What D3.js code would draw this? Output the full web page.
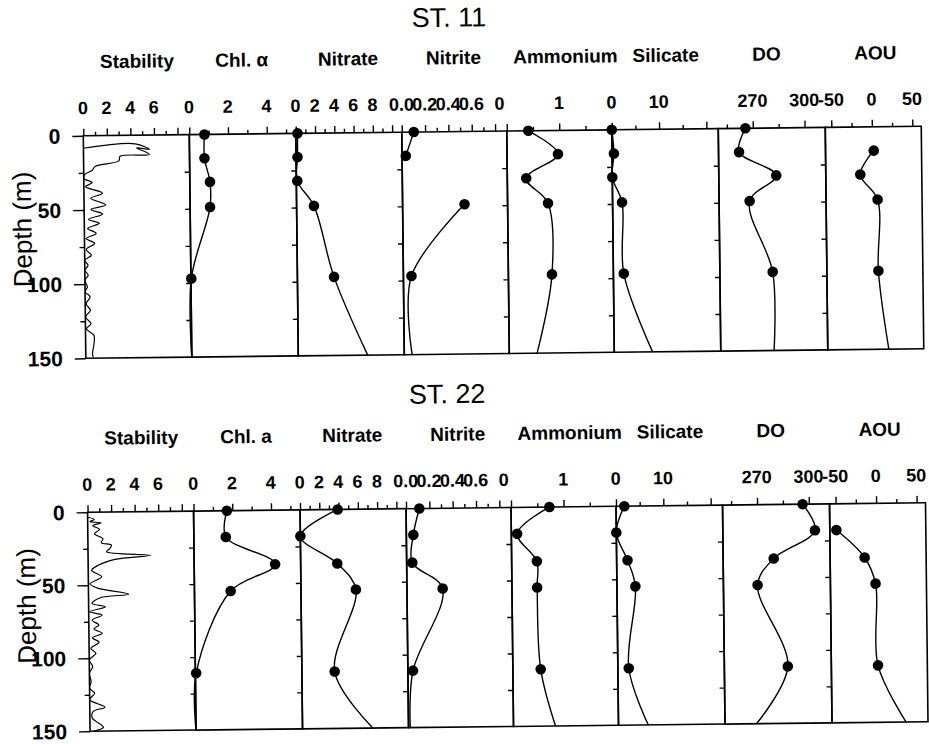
<!DOCTYPE html>
<html>
<head>
<meta charset="utf-8">
<script src="https://cdn.jsdelivr.net/npm/d3@7"></script>
<style>
  body { margin: 0; background: #fff; }
  svg { display: block; }
  text { font-family: "Liberation Sans", Arial, sans-serif; fill: #000; }
</style>
</head>
<body>
<div id="chart"></div>
<script>
// ---- data ----
const names11 = ['Stability', 'Chl. α', 'Nitrate', 'Nitrite', 'Ammonium', 'Silicate', 'DO', 'AOU'];
const names22 = ['Stability', 'Chl. a', 'Nitrate', 'Nitrite', 'Ammonium', 'Silicate', 'DO', 'AOU'];

// x range of each panel, tick values and labelled ticks
const xDomains = [[0, 9], [0, 5.5], [0, 11], [0, 0.9], [0, 2], [0, 22.5], [250, 312], [-57.5, 61]];
const majorTicks = [[0, 2, 4, 6, 8], [0, 2, 4], [0, 2, 4, 6, 8, 10], [0, 0.2, 0.4, 0.6, 0.8], [0, 1], [0, 10, 20], [270, 300], [-50, 0, 50]];
const minorTicks = [[1, 3, 5, 7], [1, 3, 5], [1, 3, 5, 7, 9], [0.1, 0.3, 0.5, 0.7], [0.5, 1.5], [5, 15], [255, 285], [-25, 25]];
const tickLabels = [[0, 2, 4, 6], [0, 2, 4], [0, 2, 4, 6, 8], [0, 0.2, 0.4, 0.6], [0, 1], [0, 10], [270, 300], [-50, 0, 50]];
const depthLabels = [0, 50, 100, 150];
const depthMinor = [25, 75, 125];

// sample depths (m); the last entry is where the curve meets the 150 m axis (no marker)
const st11Depth = [0, 16, 32, 49, 97, 150];
const st11Chl = [0.78, 0.77, 1.04, 1.03, 0.02, 0.0];
const st11Nitrate = [0.18, 0.15, 0.1, 1.8, 3.8, 7.2];
const st11Nitrite = [0.103, 0.032, null, 0.531, 0.069, 0.067];
const st11Ammonium = [0.41, 0.97, 0.36, 0.77, 0.83, 0.53];
const st11Silicate = [0, 0.4, 0, 2.0, 2.2, 8.1];
const st11DO = [265.7, 261.9, 283.3, 267.7, 280.6, 280.9];
const st11AOU = [null, 2.0, -14.9, 6.1, 6.1, 17.9];

const st22Depth = [0, 18, 37, 55, 111, 150];
const st22Chl = [1.72, 1.65, 4.18, 1.87, 0.04, 0.0];
const st22Nitrate = [3.9, 0.0, 3.8, 5.7, 3.4, 7.3];
const st22Nitrite = [0.114, 0.06, 0.048, 0.306, 0.044, 0.015];
const st22Ammonium = [0.73, 0.11, 0.48, 0.48, 0.53, 0.8];
const st22Silicate = [1.75, 0, 2.3, 3.9, 2.3, 6.3];
const st22DO = [296.4, 303.4, 279.3, 269.8, 286.8, 268.2];
const st22AOU = [null, -49.4, -14.9, -1.8, 0.1, 34];

// CTD stability profiles
const st11StabDepth = [8.4, 5.8, 9.6, 8.5, 13.0, 14.1, 17.2, 20.6, 23.5, 26, 28.7, 31.6, 34.3, 38.8, 42.2, 46.7, 49.7, 52.8, 56.4, 59.1, 62.5, 65.9, 69.3, 72.6, 76.7, 80.5, 83.9, 87.3, 90.6, 94, 97.4, 101.9, 105.3, 108.6, 113.2, 117.7, 122.2, 126.7, 130.1, 134.6, 140.2, 147, 149.3];
const st11StabValue = [0, 4.4, 5.6, 4.5, 5.6, 3.1, 3.0, 1.0, 0.7, 0.1, 0, 0.71, 0.14, 1.57, 0.57, 1.85, 0.57, 1.57, 0.37, 1.28, 0.28, 1.0, 0.14, 0.85, 0.14, 0.57, 0, 0.28, 0, 0.28, 0, 0.2, 0, 0.43, 0.08, 0.43, 0.03, 0.48, 0.08, 0.71, 0.71, 0.57, 0.63];
const st22StabDepth = [3.4, 5.0, 6.4, 7.3, 9.1, 11.8, 14.8, 18.2, 20.9, 22.7, 25, 27.2, 30, 32.5, 36.4, 39.8, 44.3, 48.9, 51.8, 56.4, 58.6, 62.5, 64.8, 68.2, 70.5, 73.9, 77.3, 80, 83, 86, 89.1, 93.2, 96.6, 101.2, 105.7, 110.2, 115.9, 120.5, 123.9, 128.4, 133.6, 136.4, 140.9, 147.3, 150];
const st22StabValue = [0, 0.57, 0.2, 1.14, 0.43, 1.0, 0.57, 1.28, 1.14, 2.0, 1.85, 1.57, 5.3, 2.28, 0.85, 0.29, 1.14, 0.14, 0.71, 3.42, 1.0, 0.29, 1.42, 0.09, 1.14, 0.29, 0.85, 0.43, 1.14, 0.29, 0.85, 0.14, 0.57, 0, 0.29, 0, 0.14, 0, 0.43, 0, 1.28, 0.29, 0.2, 1.14, 0.29];

// ---- layout ----
const width = 929, height = 744;
const edges = [86, 192, 298.5, 404.5, 509.5, 614.5, 721, 828, 924];
const labelShift = [1.5, 0, 0, 0, 7, 1.5, -4.5, 3];
// the ammonium "0" sits a little left of its tick in the original
const tickLabelNudge = (i, v) => (i === 4 && v === 0) ? -7 : 0;
const stations = [
  { title: 'ST. 11', titleX: 453, y0: 131.5, y1: 354, names: names11,
    depth: st11Depth, series: [st11Chl, st11Nitrate, st11Nitrite, st11Ammonium, st11Silicate, st11DO, st11AOU],
    stabDepth: st11StabDepth, stabValue: st11StabValue },
  { title: 'ST. 22', titleX: 447, y0: 508, y1: 727, names: names22,
    depth: st22Depth, series: [st22Chl, st22Nitrate, st22Nitrite, st22Ammonium, st22Silicate, st22DO, st22AOU],
    stabDepth: st22StabDepth, stabValue: st22StabValue }
];

const svg = d3.select('#chart').append('svg')
  .attr('width', width)
  .attr('height', height);

// the original is a slightly tilted scan
const root = svg.append('g').attr('transform', 'rotate(-0.65, 465, 372)');

const fmtTick = (i, v) => i === 3 ? d3.format('.1f')(v) : String(v);

stations.forEach((st, si) => {
  const g = root.append('g');
  const y = d3.scaleLinear().domain([0, 150]).range([st.y0, st.y1]);

  // station title
  g.append('text')
    .attr('x', st.titleX)
    .attr('y', st.y0 - 105)
    .attr('text-anchor', 'middle')
    .style('font-size', '27px')
    .text(st.title);

  // depth axis label
  g.append('text')
    .attr('transform', `translate(33, ${st.y0 + 93}) rotate(-90)`)
    .attr('text-anchor', 'middle')
    .style('font-size', '26px')
    .text('Depth (m)');

  // depth tick labels
  g.selectAll('text.dlab')
    .data(depthLabels)
    .enter()
    .append('text')
    .attr('class', 'dlab')
    .attr('x', 63)
    .attr('y', d => y(d))
    .attr('dy', '0.36em')
    .attr('text-anchor', 'end')
    .style('font-size', '21px')
    .style('font-weight', 'bold')
    .text(d => d);

  const clipId = 'clip' + si;
  g.append('clipPath').attr('id', clipId)
    .append('rect')
    .attr('x', edges[0]).attr('y', st.y0)
    .attr('width', edges[8] - edges[0]).attr('height', st.y1 - st.y0);

  for (let i = 0; i < 8; i++) {
    const x = d3.scaleLinear().domain(xDomains[i]).range([edges[i], edges[i + 1]]);
    const pg = g.append('g');
    const maxV = xDomains[i][1];

    // frame
    pg.append('rect')
      .attr('x', edges[i]).attr('y', st.y0)
      .attr('width', edges[i + 1] - edges[i]).attr('height', st.y1 - st.y0)
      .attr('fill', 'none')
      .attr('stroke', '#000')
      .attr('stroke-width', 1.6);

    // top ticks
    const topMajor = d3.axisTop(x).tickValues(majorTicks[i].filter(t => t < maxV)).tickSize(7).tickFormat('');
    const topMinor = d3.axisTop(x).tickValues(minorTicks[i].filter(t => t < maxV)).tickSize(4).tickFormat('');
    [topMajor, topMinor].forEach(ax => {
      const a = pg.append('g').attr('transform', `translate(0, ${st.y0})`).call(ax);
      a.select('.domain').remove();
      a.selectAll('line').attr('stroke-width', 1.4);
    });

    // top tick labels
    pg.selectAll('text.xlab')
      .data(tickLabels[i])
      .enter()
      .append('text')
      .attr('class', 'xlab')
      .attr('x', d => x(d) + tickLabelNudge(i, d))
      .attr('y', st.y0 - 21.5)
      .attr('text-anchor', 'middle')
      .style('font-size', '18px')
      .style('font-weight', 'bold')
      .text(d => fmtTick(i, d));

    // panel name
    pg.append('text')
      .attr('x', (edges[i] + edges[i + 1]) / 2 + labelShift[i])
      .attr('y', st.y0 - 67.5)
      .attr('text-anchor', 'middle')
      .style('font-size', '19px')
      .style('font-weight', 'bold')
      .text(st.names[i]);

    // left depth ticks
    if (i === 0) {
      const la = pg.append('g').attr('transform', `translate(${edges[0]}, 0)`)
        .call(d3.axisLeft(y).tickValues(depthLabels).tickSize(11).tickFormat(''));
      la.select('.domain').remove();
      const lb = pg.append('g').attr('transform', `translate(${edges[0]}, 0)`)
        .call(d3.axisLeft(y).tickValues(depthMinor).tickSize(5).tickFormat(''));
      lb.select('.domain').remove();
      pg.selectAll('g.tick line').attr('stroke-width', 1.4);
    } else {
      const la = pg.append('g').attr('transform', `translate(${edges[i]}, 0)`)
        .call(d3.axisLeft(y).tickValues([25, 50, 75, 100, 125]).tickSize(5).tickFormat(''));
      la.select('.domain').remove();
      la.selectAll('line').attr('stroke-width', 1.4);
    }

    if (i === 0) {
      // stability trace
      const pts = st.stabDepth.map((d, k) => [st.stabValue[k], d]);
      pg.append('path')
        .datum(pts)
        .attr('clip-path', `url(#${clipId})`)
        .attr('fill', 'none')
        .attr('stroke', '#000')
        .attr('stroke-width', 1.2)
        .attr('d', d3.line()
          .x(p => x(p[0]))
          .y(p => y(p[1]))
          .curve(d3.curveCatmullRom.alpha(0.5)));
      continue;
    }

    const vals = st.series[i - 1];
    const pts = st.depth.map((d, k) => ({ d: d, v: vals[k] }));

    pg.append('path')
      .datum(pts)
      .attr('clip-path', `url(#${clipId})`)
      .attr('fill', 'none')
      .attr('stroke', '#000')
      .attr('stroke-width', 1.4)
      .attr('d', d3.line()
        .defined(p => p.v !== null)
        .x(p => x(p.v))
        .y(p => y(p.d))
        .curve(d3.curveCatmullRom.alpha(0.5)));

    pg.selectAll('circle')
      .data(pts.filter(p => p.v !== null && p.d < 150))
      .enter()
      .append('circle')
      .attr('cx', p => x(p.v))
      .attr('cy', p => y(p.d))
      .attr('r', 5.3)
      .attr('fill', '#000');
  }
});
</script>
</body>
</html>
